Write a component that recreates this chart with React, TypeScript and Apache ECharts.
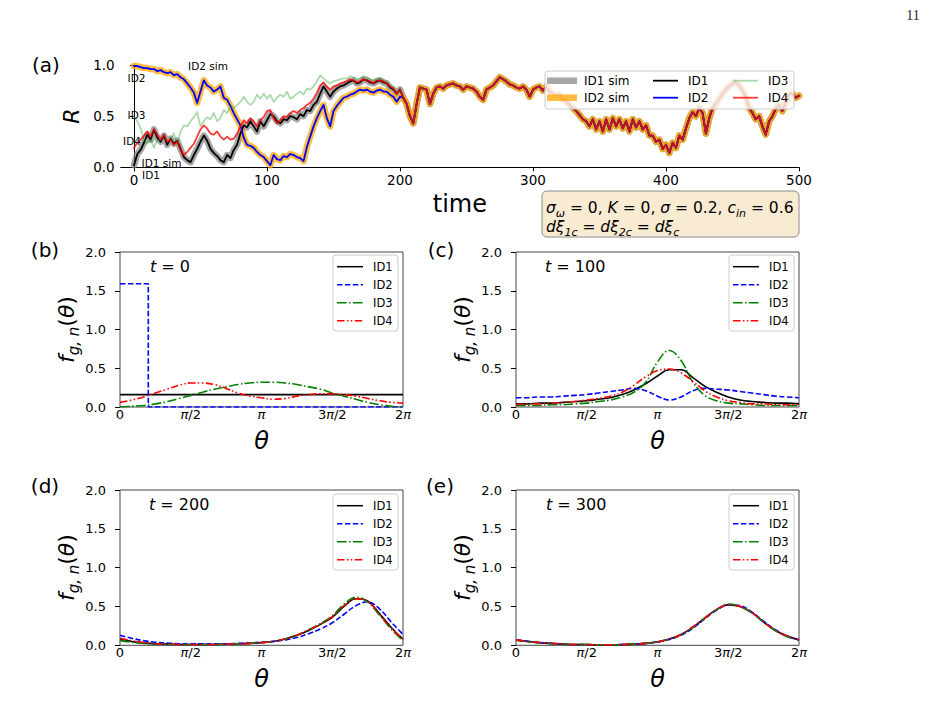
import { useEffect, useRef } from 'react';
import * as echarts from 'echarts';

const FONT = '"DejaVu Sans", "Noto Sans", sans-serif';
const PI = Math.PI;

// ---------- (a) order parameter R(t), sampled every 2.5 time units ----------
const T_STEP = 2.5;
const timeTicks = [0, 100, 200, 300, 400, 500];

// t = 0 … 200
const rId1Early = [
  0.02, 0.13, 0.17, 0.24, 0.32, 0.27, 0.37, 0.29, 0.25, 0.31,
  0.22, 0.28, 0.23, 0.26, 0.18, 0.10, 0.07, 0.05, 0.12, 0.18,
  0.25, 0.31, 0.26, 0.18, 0.14, 0.11, 0.07, 0.05, 0.12, 0.09,
  0.17, 0.22, 0.33, 0.41, 0.39, 0.45, 0.40, 0.35, 0.45, 0.40,
  0.46, 0.52, 0.50, 0.45, 0.43, 0.47, 0.46, 0.50, 0.49, 0.47,
  0.52, 0.50, 0.56, 0.55, 0.61, 0.64, 0.72, 0.79, 0.74, 0.69,
  0.74, 0.77, 0.79, 0.80, 0.82, 0.84, 0.85, 0.82, 0.83, 0.86,
  0.85, 0.83, 0.82, 0.84, 0.85, 0.83, 0.82, 0.78, 0.76, 0.72,
  0.76,
];
const rId2Early = [
  0.99, 0.99, 0.98, 0.97, 0.97, 0.96, 0.96, 0.94, 0.95, 0.93,
  0.92, 0.93, 0.90, 0.91, 0.88, 0.86, 0.82, 0.78, 0.73, 0.63,
  0.74, 0.85, 0.80, 0.78, 0.74, 0.76, 0.79, 0.68, 0.66, 0.60,
  0.53, 0.47, 0.41, 0.29, 0.22, 0.21, 0.19, 0.15, 0.12, 0.10,
  0.06, 0.02, 0.12, 0.08, 0.07, 0.11, 0.10, 0.13, 0.12, 0.10,
  0.09, 0.06, 0.20, 0.30, 0.40, 0.48, 0.55, 0.61, 0.48, 0.40,
  0.55, 0.60, 0.64, 0.68, 0.69, 0.71, 0.72, 0.74, 0.76, 0.75,
  0.76, 0.74, 0.73, 0.75, 0.76, 0.74, 0.74, 0.71, 0.69, 0.64,
  0.69,
];
const rId3Early = [
  0.50, 0.45, 0.38, 0.27, 0.23, 0.28, 0.19, 0.27, 0.26, 0.32,
  0.25, 0.27, 0.33, 0.22, 0.35, 0.41, 0.40, 0.45, 0.49, 0.54,
  0.40, 0.45, 0.49, 0.47, 0.53, 0.45, 0.48, 0.56, 0.53, 0.59,
  0.58, 0.61, 0.64, 0.69, 0.64, 0.61, 0.64, 0.71, 0.67, 0.72,
  0.67, 0.71, 0.64, 0.68, 0.71, 0.69, 0.74, 0.67, 0.69, 0.72,
  0.74, 0.71, 0.77, 0.76, 0.79, 0.84, 0.90, 0.87, 0.84, 0.82,
  0.84, 0.85, 0.86, 0.87, 0.87, 0.89, 0.88, 0.86, 0.87, 0.89,
  0.88, 0.86, 0.85, 0.87, 0.87, 0.85, 0.84, 0.80, 0.78, 0.73,
  0.77,
];
const rId4Early = [
  0.19, 0.24, 0.27, 0.31, 0.35, 0.30, 0.37, 0.32, 0.27, 0.32,
  0.25, 0.27, 0.22, 0.25, 0.17, 0.12, 0.15, 0.19, 0.23, 0.30,
  0.37, 0.41, 0.38, 0.33, 0.32, 0.35, 0.30, 0.27, 0.30, 0.27,
  0.28, 0.33, 0.40, 0.46, 0.43, 0.48, 0.45, 0.40, 0.46, 0.49,
  0.55, 0.56, 0.48, 0.43, 0.46, 0.50, 0.49, 0.53, 0.55, 0.53,
  0.56, 0.58, 0.61, 0.63, 0.67, 0.73, 0.80, 0.83, 0.79, 0.76,
  0.79, 0.80, 0.82, 0.83, 0.84, 0.86, 0.85, 0.83, 0.84, 0.86,
  0.85, 0.84, 0.82, 0.85, 0.85, 0.84, 0.82, 0.79, 0.77, 0.72,
  0.76,
];
// t = 202.5 … 500: the four groups move together
const rSyncTail = [
  0.68, 0.62, 0.50, 0.43, 0.62, 0.78, 0.77, 0.76, 0.62, 0.72,
  0.78, 0.79, 0.77, 0.80, 0.81, 0.82, 0.80, 0.79, 0.76, 0.79,
  0.78, 0.77, 0.74, 0.69, 0.66, 0.76, 0.78, 0.80, 0.84, 0.88,
  0.86, 0.84, 0.81, 0.80, 0.78, 0.77, 0.79, 0.76, 0.69, 0.76,
  0.78, 0.79, 0.75, 0.79, 0.74, 0.72, 0.70, 0.71, 0.66, 0.64,
  0.61, 0.58, 0.55, 0.51, 0.47, 0.45, 0.40, 0.47, 0.37, 0.45,
  0.35, 0.47, 0.37, 0.48, 0.40, 0.47, 0.38, 0.45, 0.35, 0.47,
  0.39, 0.45, 0.37, 0.41, 0.31, 0.31, 0.25, 0.27, 0.18, 0.22,
  0.14, 0.24, 0.19, 0.31, 0.27, 0.38, 0.48, 0.54, 0.50, 0.58,
  0.53, 0.33, 0.48, 0.58, 0.62, 0.67, 0.72, 0.76, 0.79, 0.82,
  0.83, 0.80, 0.75, 0.69, 0.58, 0.53, 0.47, 0.50, 0.40, 0.32,
  0.45, 0.50, 0.57, 0.61, 0.55, 0.63, 0.71, 0.72, 0.68, 0.70,
];

// ---------- (b)–(e) phase densities f_{g,n}(θ) on θ = kπ/12, k = 0…24 ----------
const THETA_STEP = PI / 12;
const thetaTickValues = [0, PI / 2, PI, (3 * PI) / 2, 2 * PI];
const thetaTickLabels = ['0', '{i|π}/2', '{i|π}', '3{i|π}/2', '2{i|π}'];
const groupNames = ['ID1', 'ID2', 'ID3', 'ID4'];
const timeLabels = ['0', '100', '200', '300'];

// t = 0: uniform, narrow box, and two bumps
const fB1Theta = [0, 2 * PI];
const fB1 = [0.16, 0.16];
const fB2Theta = [0, 0.2 * PI, 0.2 * PI, 2 * PI];
const fB2 = [1.59, 1.59, 0, 0];
const fB3 = [0.00, 0.01, 0.02, 0.04, 0.07, 0.11, 0.15, 0.19, 0.23, 0.26, 0.29, 0.31, 0.32, 0.32, 0.31, 0.29, 0.26, 0.23, 0.18, 0.14, 0.10, 0.06, 0.03, 0.01, 0.00];
const fB4 = [0.06, 0.09, 0.13, 0.18, 0.23, 0.28, 0.31, 0.31, 0.29, 0.24, 0.18, 0.14, 0.12, 0.10, 0.11, 0.14, 0.16, 0.17, 0.17, 0.16, 0.14, 0.11, 0.08, 0.06, 0.05];
// t = 100
const fC1 = [0.04, 0.04, 0.05, 0.05, 0.06, 0.07, 0.08, 0.10, 0.12, 0.16, 0.22, 0.30, 0.40, 0.48, 0.48, 0.38, 0.27, 0.19, 0.13, 0.09, 0.07, 0.06, 0.05, 0.05, 0.04];
const fC2 = [0.12, 0.12, 0.13, 0.13, 0.14, 0.15, 0.16, 0.18, 0.20, 0.22, 0.24, 0.21, 0.14, 0.09, 0.13, 0.21, 0.24, 0.23, 0.22, 0.20, 0.18, 0.16, 0.14, 0.13, 0.12];
const fC3 = [0.02, 0.02, 0.02, 0.03, 0.03, 0.04, 0.05, 0.07, 0.09, 0.13, 0.19, 0.32, 0.58, 0.73, 0.60, 0.32, 0.15, 0.08, 0.05, 0.04, 0.03, 0.02, 0.02, 0.02, 0.02];
const fC4 = [0.03, 0.04, 0.04, 0.05, 0.06, 0.07, 0.09, 0.11, 0.14, 0.19, 0.28, 0.39, 0.47, 0.49, 0.44, 0.33, 0.21, 0.13, 0.08, 0.06, 0.04, 0.04, 0.03, 0.03, 0.03];
// t = 200
const fD1 = [0.08, 0.05, 0.03, 0.02, 0.015, 0.01, 0.01, 0.01, 0.01, 0.015, 0.02, 0.025, 0.035, 0.05, 0.08, 0.13, 0.19, 0.27, 0.36, 0.50, 0.60, 0.57, 0.41, 0.23, 0.08];
const fD2 = [0.13, 0.09, 0.06, 0.04, 0.03, 0.02, 0.02, 0.02, 0.02, 0.02, 0.025, 0.03, 0.04, 0.05, 0.07, 0.10, 0.15, 0.21, 0.29, 0.40, 0.51, 0.56, 0.47, 0.30, 0.14];
const fD3 = [0.06, 0.04, 0.025, 0.015, 0.01, 0.01, 0.01, 0.01, 0.01, 0.015, 0.02, 0.025, 0.035, 0.05, 0.08, 0.13, 0.20, 0.28, 0.38, 0.53, 0.62, 0.56, 0.39, 0.21, 0.06];
const fD4 = [0.09, 0.06, 0.035, 0.02, 0.015, 0.01, 0.01, 0.01, 0.01, 0.015, 0.02, 0.025, 0.035, 0.05, 0.08, 0.13, 0.20, 0.27, 0.37, 0.51, 0.60, 0.57, 0.40, 0.22, 0.08];
// t = 300
const fE1 = [0.07, 0.05, 0.035, 0.025, 0.015, 0.01, 0.01, 0.005, 0.005, 0.01, 0.015, 0.025, 0.045, 0.08, 0.14, 0.23, 0.35, 0.46, 0.52, 0.50, 0.42, 0.30, 0.19, 0.12, 0.07];
const fE2 = [0.07, 0.05, 0.035, 0.025, 0.015, 0.01, 0.01, 0.005, 0.005, 0.01, 0.015, 0.025, 0.04, 0.075, 0.13, 0.22, 0.34, 0.45, 0.52, 0.51, 0.43, 0.31, 0.20, 0.12, 0.07];
const fE3 = [0.065, 0.045, 0.03, 0.02, 0.015, 0.01, 0.01, 0.005, 0.005, 0.01, 0.015, 0.025, 0.045, 0.08, 0.14, 0.23, 0.35, 0.46, 0.53, 0.50, 0.42, 0.30, 0.19, 0.11, 0.065];
const fE4 = [0.07, 0.05, 0.035, 0.025, 0.015, 0.01, 0.01, 0.005, 0.005, 0.01, 0.015, 0.025, 0.045, 0.08, 0.14, 0.24, 0.35, 0.46, 0.52, 0.50, 0.42, 0.30, 0.19, 0.12, 0.07];

// ---------- styling ----------
const LINE_COLORS = ['#000000', '#0000ff', '#008000', '#ff0000'];
const LINE_DASH: (number[] | null)[] = [null, [5.5, 2.4], [9.6, 2.4, 1.5, 2.4], [7.5, 2.4, 1.5, 2.4, 1.5, 2.4]];
const A_STYLE = {
  sim1: 'rgba(128,128,128,0.7)',
  sim2: 'rgba(255,165,0,0.75)',
  id1: '#000000',
  id2: '#0000ff',
  id3: 'rgba(44,160,44,0.4)',
  id4: 'rgba(255,0,0,0.78)',
};

const onTimeGrid = (vals: number[]) => vals.map((v, i) => [i * T_STEP, v]);
const onThetaGrid = (vals: number[]) => vals.map((v, i) => [i * THETA_STEP, v]);
const pairs = (xs: number[], ys: number[]) => xs.map((x, i) => [x, ys[i]]);

// lower panel boxes
const PANELS = [
  { left: 120, top: 252, width: 283, height: 155 },
  { left: 516, top: 252, width: 283, height: 155 },
  { left: 120, top: 490, width: 283, height: 155.3 },
  { left: 516, top: 490, width: 283, height: 155.3 },
];

const tickText = { fontFamily: FONT, color: '#000', fontSize: 13 };

function lowerLegend(x0: number, y0: number) {
  const out: any[] = [
    {
      type: 'rect', z: 50, silent: true,
      shape: { x: x0, y: y0, width: 65, height: 76, r: 3 },
      style: { fill: 'rgba(255,255,255,0.85)', stroke: '#cccccc', lineWidth: 1 },
    },
  ];
  groupNames.forEach((name, i) => {
    const y = y0 + 11.7 + 18 * i;
    out.push({
      type: 'line', z: 51, silent: true,
      shape: { x1: x0 + 4, y1: y, x2: x0 + 30, y2: y },
      style: { stroke: LINE_COLORS[i], lineWidth: 1.5, lineDash: LINE_DASH[i] || undefined },
    });
    out.push({
      type: 'text', z: 51, silent: true, x: x0 + 40, y,
      style: { text: name, fontFamily: FONT, fontSize: 11.5, fill: '#000', align: 'left', verticalAlign: 'middle' },
    });
  });
  return out;
}

function App() {
  const ref = useRef<HTMLDivElement>(null);

  useEffect(() => {
    if (!ref.current) return;
    const chart = echarts.init(ref.current, undefined, { renderer: 'svg' });

    const r1 = [...rId1Early, ...rSyncTail];
    const r2 = [...rId2Early, ...rSyncTail];
    const r3 = [...rId3Early, ...rSyncTail];
    const r4 = [...rId4Early, ...rSyncTail];

    const grids: any[] = [
      { left: 120.7, top: 65, width: 678.3, height: 102.3, show: false, outerBoundsMode: 'none' },
      ...PANELS.map((p) => ({
        ...p, show: true, borderColor: '#444', borderWidth: 1, backgroundColor: 'transparent', outerBoundsMode: 'none',
      })),
    ];

    const xAxes: any[] = [
      {
        type: 'value', gridIndex: 0, min: -10, max: 500,
        axisLine: { show: true, lineStyle: { color: '#000', width: 1 } },
        axisTick: { show: true, customValues: timeTicks, length: 4, lineStyle: { color: '#000' } },
        axisLabel: { customValues: timeTicks, margin: 6, ...tickText, fontSize: 13.5 },
        splitLine: { show: false },
        name: 'time', nameLocation: 'middle', nameGap: 25,
        nameTextStyle: { fontFamily: FONT, fontSize: 24, color: '#000' },
      },
      ...PANELS.map((_, i) => ({
        type: 'value', gridIndex: i + 1, min: 0, max: 2 * PI,
        axisLine: { show: false },
        axisTick: { show: false },
        axisLabel: {
          customValues: thetaTickValues, margin: 1, ...tickText,
          formatter: (v: number) => thetaTickLabels[Math.round(v / (PI / 2))],
          rich: { i: { fontFamily: FONT, fontSize: 13, fontStyle: 'italic', color: '#000' } },
        },
        splitLine: { show: false },
        name: 'θ', nameLocation: 'middle', nameGap: 22,
        nameTextStyle: { fontFamily: FONT, fontSize: 24, fontStyle: 'italic', color: '#000' },
      })),
    ];

    const yAxes: any[] = [
      {
        type: 'value', gridIndex: 0, min: 0, max: 1, interval: 0.5,
        axisLine: { show: true, lineStyle: { color: '#000', width: 1 } },
        axisTick: { show: true, length: 4, lineStyle: { color: '#000' } },
        axisLabel: { margin: 6, ...tickText, fontSize: 13.5, formatter: (v: number) => v.toFixed(1) },
        splitLine: { show: false },
        name: 'R', nameLocation: 'middle', nameGap: 34, nameRotate: 90,
        nameTextStyle: { fontFamily: FONT, fontSize: 22, fontStyle: 'italic', color: '#000' },
      },
      ...PANELS.map((_, i) => ({
        type: 'value', gridIndex: i + 1, min: 0, max: 2, interval: 0.5,
        axisLine: { show: false },
        axisTick: { show: true, length: 5, lineStyle: { color: '#000' } },
        axisLabel: { margin: 14, ...tickText, formatter: (v: number) => v.toFixed(1) },
        splitLine: { show: false },
        name: '{f|f}{s|g, n}{p|(}{f|θ}{p|)}', nameLocation: 'middle', nameGap: 34, nameRotate: 90,
        nameTextStyle: {
          fontFamily: FONT, fontSize: 22, color: '#000',
          rich: {
            f: { fontFamily: FONT, fontSize: 22, fontStyle: 'italic', color: '#000' },
            p: { fontFamily: FONT, fontSize: 22, color: '#000' },
            s: { fontFamily: FONT, fontSize: 15, fontStyle: 'italic', color: '#000', padding: [14, 0, 0, 0] },
          },
        },
      })),
    ];

    const aLine = (name: string, data: number[], color: string, width: number, z: number) => ({
      type: 'line', name, xAxisIndex: 0, yAxisIndex: 0, data: onTimeGrid(data),
      symbol: 'none', showSymbol: false, clip: false, z,
      lineStyle: { color, width, join: 'round', cap: 'round' },
      emphasis: { disabled: true },
    });

    const densityLine = (panel: number, idx: number, data: number[][], smooth: number) => ({
      type: 'line', name: groupNames[idx], xAxisIndex: panel, yAxisIndex: panel, data,
      symbol: 'none', showSymbol: false, smooth, z: 3 + idx,
      lineStyle: { color: LINE_COLORS[idx], width: 1.6, type: LINE_DASH[idx] || 'solid' },
      emphasis: { disabled: true },
    });

    const series: any[] = [
      aLine('ID1 sim', r1, A_STYLE.sim1, 6.5, 2),
      aLine('ID2 sim', r2, A_STYLE.sim2, 6.5, 2),
      aLine('ID1', r1, A_STYLE.id1, 1.8, 3),
      aLine('ID2', r2, A_STYLE.id2, 1.8, 3),
      aLine('ID3', r3, A_STYLE.id3, 1.8, 3),
      aLine('ID4', r4, A_STYLE.id4, 1.8, 3),

      densityLine(1, 0, pairs(fB1Theta, fB1), 0),
      densityLine(1, 1, pairs(fB2Theta, fB2), 0),
      densityLine(1, 2, onThetaGrid(fB3), 0.4),
      densityLine(1, 3, onThetaGrid(fB4), 0.4),

      densityLine(2, 0, onThetaGrid(fC1), 0.4),
      densityLine(2, 1, onThetaGrid(fC2), 0.4),
      densityLine(2, 2, onThetaGrid(fC3), 0.4),
      densityLine(2, 3, onThetaGrid(fC4), 0.4),

      densityLine(3, 0, onThetaGrid(fD1), 0.4),
      densityLine(3, 1, onThetaGrid(fD2), 0.4),
      densityLine(3, 2, onThetaGrid(fD3), 0.4),
      densityLine(3, 3, onThetaGrid(fD4), 0.4),

      densityLine(4, 0, onThetaGrid(fE1), 0.4),
      densityLine(4, 1, onThetaGrid(fE2), 0.4),
      densityLine(4, 2, onThetaGrid(fE3), 0.4),
      densityLine(4, 3, onThetaGrid(fE4), 0.4),
    ];

    const txt = (text: string, x: number, y: number, fontSize: number, extra: any = {}) => ({
      type: 'text', z: 60, silent: true, x, y,
      style: { text, fontFamily: FONT, fontSize, fill: '#000', align: 'center', verticalAlign: 'middle', ...extra },
    });

    const mathRich = (size: number, subSize: number, drop: number) => ({
      i: { fontFamily: FONT, fontSize: size, fontStyle: 'italic', fill: '#000' },
      n: { fontFamily: FONT, fontSize: size, fill: '#000' },
      s: { fontFamily: FONT, fontSize: subSize, fontStyle: 'italic', fill: '#000', padding: [drop, 0, 0, 0] },
    });

    // legend of panel (a): three columns, two rows
    const aLegendItems = [
      { name: 'ID1 sim', color: A_STYLE.sim1, width: 6.5, col: 0, row: 0 },
      { name: 'ID2 sim', color: A_STYLE.sim2, width: 6.5, col: 0, row: 1 },
      { name: 'ID1', color: A_STYLE.id1, width: 1.8, col: 1, row: 0 },
      { name: 'ID2', color: A_STYLE.id2, width: 1.8, col: 1, row: 1 },
      { name: 'ID3', color: A_STYLE.id3, width: 1.8, col: 2, row: 0 },
      { name: 'ID4', color: A_STYLE.id4, width: 1.8, col: 2, row: 1 },
    ];
    const colX = [[547, 577, 584], [653, 678, 688], [733, 758, 768]];
    const aLegend: any[] = [
      {
        type: 'rect', z: 50, silent: true,
        shape: { x: 545, y: 71, width: 249, height: 38, r: 3 },
        style: { fill: 'rgba(255,255,255,0.8)', stroke: '#cccccc', lineWidth: 1 },
      },
    ];
    aLegendItems.forEach((it) => {
      const [x1, x2, tx] = colX[it.col];
      const y = 80.7 + 17 * it.row;
      aLegend.push({
        type: 'line', z: 51, silent: true,
        shape: { x1, y1: y, x2, y2: y },
        style: { stroke: it.color, lineWidth: it.width },
      });
      aLegend.push(txt(it.name, tx, y, 12, { align: 'left' }));
    });

    const paramLine1 = '{i|σ}{s|ω}{n| = 0, }{i|K}{n| = 0, }{i|σ}{n| = 0.2, }{i|c}{s|in}{n| = 0.6}';
    const paramLine2 = '{i|dξ}{s|1c}{n| = }{i|dξ}{s|2c}{n| = }{i|dξ}{s|c}';

    const graphic: any[] = [
      txt('11', 913, 15, 14, { fontFamily: '"Liberation Serif", "DejaVu Serif", serif', fill: '#222' }),
      txt('(a)', 46, 65, 20),
      txt('(b)', 45, 250, 20),
      txt('(c)', 441, 250, 20),
      txt('(d)', 45, 486, 20),
      txt('(e)', 440, 486, 20),

      txt('ID2 sim', 208, 66, 10.5),
      txt('ID2', 136.5, 78, 10.5),
      txt('ID3', 136.5, 115, 10.5),
      txt('ID4', 132, 141, 10.5),
      txt('ID1 sim', 161.5, 162.5, 10.5),
      txt('ID1', 151, 174.5, 10.5),

      ...[[150, 266], [545, 266], [149, 504], [546, 504]].map(([x, y], i) =>
        txt(`{i|t}{n| = ${timeLabels[i]}}`, x, y, 16, { align: 'left', rich: mathRich(16, 11, 0) })
      ),

      ...aLegend,
      ...lowerLegend(333, 255),
      ...lowerLegend(729, 255),
      ...lowerLegend(333, 494),
      ...lowerLegend(729, 494),

      {
        type: 'rect', z: 50, silent: true,
        shape: { x: 542, y: 191, width: 257, height: 46, r: 5 },
        style: { fill: 'rgba(245,222,179,0.6)', stroke: '#8a8a8a', lineWidth: 1 },
      },
      txt(paramLine1, 546, 208, 15.5, { align: 'left', z: 51, rich: mathRich(15.5, 11, 10) }),
      txt(paramLine2, 546, 227, 15.5, { align: 'left', z: 51, rich: mathRich(15.5, 11, 10) }),
    ];

    chart.setOption({
      animation: false,
      backgroundColor: '#ffffff',
      textStyle: { fontFamily: FONT },
      grid: grids,
      xAxis: xAxes,
      yAxis: yAxes,
      series,
      graphic,
    });

    return () => chart.dispose();
  }, []);

  return (
    <div
      ref={ref}
      style={{ position: 'fixed', left: 0, top: 0, width: 934, height: 717, background: '#fff' }}
    />
  );
}

export default App;
